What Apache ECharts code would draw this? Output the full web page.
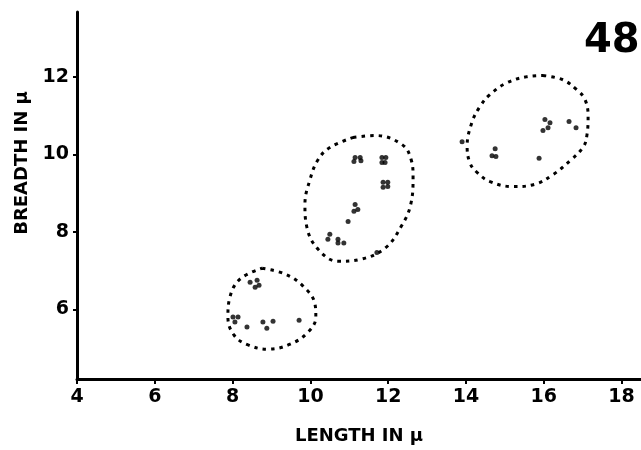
<!DOCTYPE html>
<html>
<head>
<meta charset="utf-8">
<script src="https://cdn.jsdelivr.net/npm/echarts@6/dist/echarts.min.js"></script>
<style>html,body{margin:0;padding:0;background:#fff}#c{width:641px;height:450px}</style>
</head>
<body>
<div id="c"></div>
<script>
const xTicks = [4, 6, 8, 10, 12, 14, 16, 18];
const yTicks = [6, 8, 10, 12];

// individual measurements (length, breadth) in μ
const dotX = [8.45, 8.63, 8.58, 8.68, 8.01, 8.14, 8.06, 8.37, 8.78, 9.04, 8.88, 9.71,
  11.15, 11.28, 11.12, 11.30, 11.84, 11.94, 11.84, 11.92, 11.87, 11.99, 11.87, 11.99,
  11.15, 11.22, 11.12, 10.97, 10.50, 10.45, 10.71, 10.71, 10.86, 11.71,
  13.90, 14.75, 14.67, 14.77, 15.88, 16.03, 16.16, 15.98, 16.11, 16.65, 16.83];
const dotY = [6.70, 6.75, 6.57, 6.62, 5.80, 5.80, 5.67, 5.54, 5.67, 5.69, 5.51, 5.72,
  9.92, 9.92, 9.82, 9.84, 9.92, 9.92, 9.79, 9.79, 9.28, 9.28, 9.15, 9.17,
  8.71, 8.58, 8.53, 8.27, 7.94, 7.81, 7.81, 7.71, 7.71, 7.47,
  10.33, 10.15, 9.97, 9.95, 9.90, 10.90, 10.82, 10.62, 10.69, 10.85, 10.69];

// hand-drawn dotted enclosures (outline points)
const ring1X = [8.76, 9.35, 9.81, 10.12, 10.14, 9.94, 9.48, 8.91, 8.40, 8.04, 7.88, 7.93, 8.19, 8.76];
const ring1Y = [7.06, 6.91, 6.60, 6.13, 5.80, 5.41, 5.10, 4.97, 5.08, 5.33, 5.80, 6.31, 6.78, 7.06];
const ring2X = [11.10, 11.66, 12.35, 12.59, 12.64, 12.58, 12.34, 11.92, 11.28, 10.71, 10.20, 9.91, 9.86, 9.99, 10.20, 10.50, 11.10];
const ring2Y = [10.44, 10.49, 10.26, 9.87, 9.41, 8.71, 8.15, 7.58, 7.29, 7.24, 7.55, 8.12, 8.71, 9.35, 9.87, 10.18, 10.44];
const ring3X = [15.98, 16.49, 16.85, 17.06, 17.14, 17.11, 17.02, 16.70, 16.24, 15.77, 15.21, 14.62, 14.28, 14.10, 14.03, 14.15, 14.36, 14.62, 15.05, 15.57, 15.98];
const ring3Y = [12.04, 11.93, 11.67, 11.42, 10.98, 10.50, 10.20, 9.86, 9.48, 9.23, 9.17, 9.30, 9.54, 9.79, 10.21, 10.82, 11.24, 11.55, 11.85, 12.01, 12.04];

const figLabel = '48';
const xName = 'LENGTH IN μ';
const yName = 'BREADTH IN μ';

const zip = (a, b) => a.map((v, i) => [v, b[i]]);
const font = '"DejaVu Sans", sans-serif';

const ringStyle = { color: '#000', width: 3, type: [3.5, 5], cap: 'butt' };
const ring = (xs, ys) => ({
  type: 'line', data: zip(xs, ys), smooth: 0.4, symbol: 'none',
  lineStyle: ringStyle, silent: true, z: 2
});

const chart = echarts.init(document.getElementById('c'), null, { renderer: 'canvas' });
chart.setOption({
  animation: false,
  backgroundColor: '#fff',
  grid: { left: 77, right: 0, top: 12, bottom: 70 },
  xAxis: {
    type: 'value', min: 4, max: 18.5,
    name: xName, nameLocation: 'middle', nameGap: 48,
    nameTextStyle: { fontFamily: font, fontWeight: 'bold', fontSize: 18, color: '#000' },
    axisLine: { lineStyle: { color: '#000', width: 3 } },
    axisTick: { customValues: xTicks, length: 5, lineStyle: { color: '#000', width: 2 } },
    axisLabel: { customValues: xTicks, fontFamily: font, fontWeight: 'bold', fontSize: 19, color: '#000', margin: 9 },
    splitLine: { show: false }
  },
  yAxis: {
    type: 'value', min: 4.2, max: 13.68,
    axisLine: { lineStyle: { color: '#000', width: 3 } },
    axisTick: { customValues: yTicks, length: 4, lineStyle: { color: '#000', width: 2 } },
    axisLabel: { customValues: yTicks, fontFamily: font, fontWeight: 'bold', fontSize: 19, color: '#000', margin: 8 },
    splitLine: { show: false }
  },
  graphic: [
    { type: 'text', x: 22, y: 163, rotation: Math.PI / 2,
      style: { text: yName, font: 'bold 18px ' + font, fill: '#000', align: 'center', verticalAlign: 'middle' } },
    { type: 'text', x: 584, y: 42,
      style: { text: figLabel, font: 'bold 40px ' + font, fill: '#000', align: 'left', verticalAlign: 'middle' } }
  ],
  series: [
    ring(ring1X, ring1Y),
    ring(ring2X, ring2Y),
    ring(ring3X, ring3Y),
    { type: 'scatter', data: zip(dotX, dotY), symbol: 'circle', symbolSize: 5,
      itemStyle: { color: '#000' }, z: 3 }
  ]
});
</script>
</body>
</html>
